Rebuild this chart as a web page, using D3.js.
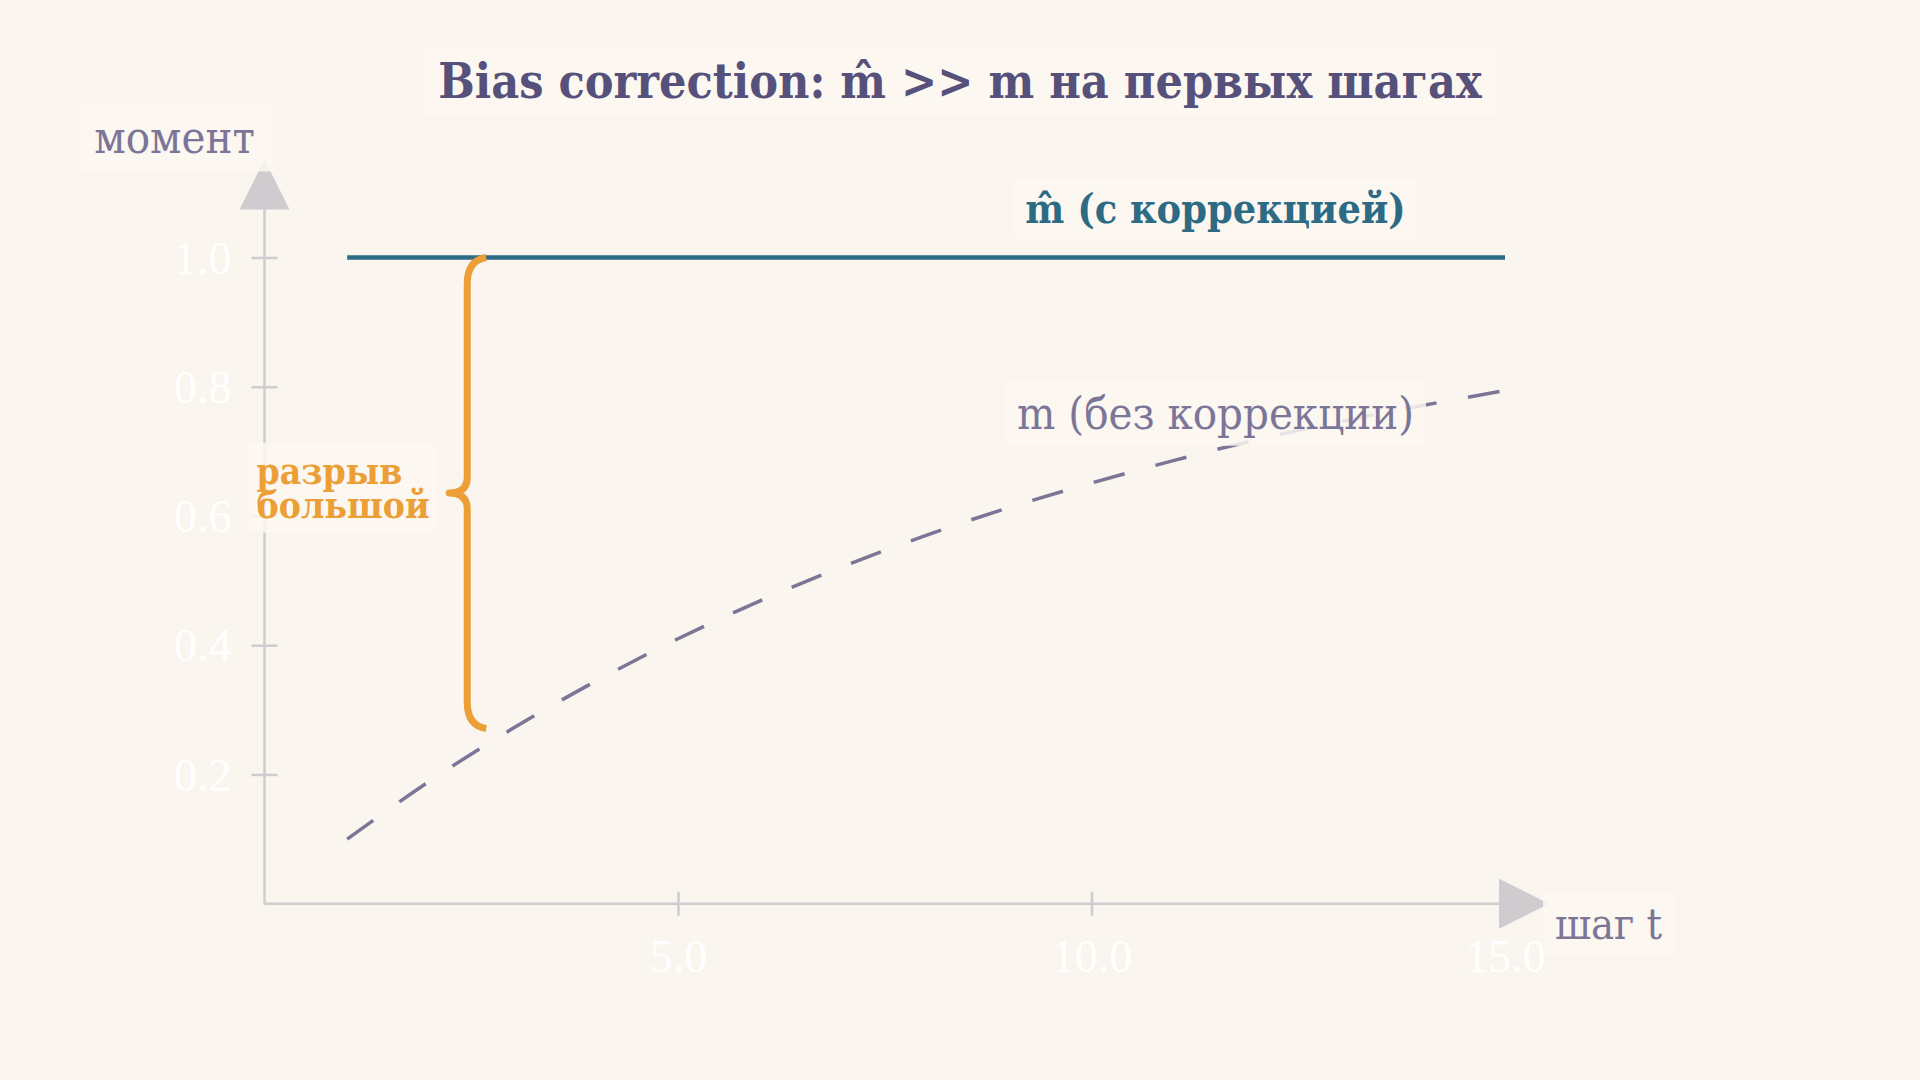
<!DOCTYPE html>
<html>
<head>
<meta charset="utf-8">
<script src="https://cdn.jsdelivr.net/npm/d3@7"></script>
<style>
  html, body { margin: 0; padding: 0; background: #faf5ee; }
  svg { display: block; }
  .lbl { font-stretch: condensed; }
</style>
</head>
<body>
<div id="chart"></div>
<script>
// --- Data ---
const steps = [1, 2, 3, 4, 5, 6, 7, 8, 9, 10, 11, 12, 13, 14, 15];
// m_t without correction
const mRaw = [0.100, 0.190, 0.271, 0.344, 0.410, 0.469, 0.522, 0.570, 0.613, 0.651, 0.686, 0.718, 0.746, 0.771, 0.794];
// m̂_t with bias correction
const mHat = [1.0, 1.0, 1.0, 1.0, 1.0, 1.0, 1.0, 1.0, 1.0, 1.0, 1.0, 1.0, 1.0, 1.0, 1.0];
const xTicks = [5, 10, 15];
const yTicks = [0.2, 0.4, 0.6, 0.8, 1.0];

const titleText = "Bias correction: m\u0302 >> m на первых шагах";
const hatLabel = "m\u0302 (с коррекцией)";
const rawLabel = "m (без коррекции)";
const gapLines = ["разрыв", "большой"];
const yTitle = "момент";
const xTitle = "шаг t";

// --- Layout & color ---
const W = 1920, H = 1080;
const bg = "#faf5ee";
const col = {
  title: "#56517b",
  hat: "#2d6b84",
  raw: "#7b7598",
  gap: "#ec9f36",
  axis: "#cfcbcf",
  tick: "#ffffff",
  box: "#fbf7f1"
};
const serif = "'DejaVu Serif Condensed', 'DejaVu Serif', serif";
const tickFont = "'Liberation Serif', serif";

const x = d3.scaleLinear().domain([0, 15]).range([264.5, 1505]);
const y = d3.scaleLinear().domain([0, 1]).range([903.7, 257.5]);

const svg = d3.select("#chart").append("svg")
  .attr("width", W).attr("height", H);

svg.append("rect").attr("width", W).attr("height", H).attr("fill", bg);

// axes lines + arrows
const axisG = svg.append("g");
const x0 = x(0), y0 = y(0);
axisG.append("line")
  .attr("x1", x0).attr("x2", x(15) - 6).attr("y1", y0).attr("y2", y0)
  .attr("stroke", col.axis).attr("stroke-width", 2.5);
axisG.append("line")
  .attr("x1", x0).attr("x2", x0).attr("y1", y0).attr("y2", y(1) - 49)
  .attr("stroke", col.axis).attr("stroke-width", 2.5);
// arrow heads
const xTip = x(15) + 44, yTip = y(1) - 98;
axisG.append("path")
  .attr("d", `M${xTip},${y0} L${xTip - 50},${y0 - 25} L${xTip - 50},${y0 + 25} Z`)
  .attr("fill", col.axis);
axisG.append("path")
  .attr("d", `M${x0},${yTip} L${x0 - 25},${yTip + 50} L${x0 + 25},${yTip + 50} Z`)
  .attr("fill", col.axis);

// ticks via d3 axes (tick marks cross the axis line)
const gx = svg.append("g").attr("transform", `translate(0,${y0})`)
  .call(d3.axisBottom(x).tickValues(xTicks).tickFormat(d3.format(".1f")).tickSize(0));
gx.select(".domain").remove();
gx.selectAll(".tick line").attr("y1", -12).attr("y2", 12)
  .attr("stroke", col.axis).attr("stroke-width", 2.5);
gx.selectAll(".tick text")
  .attr("y", 68).attr("dy", 0)
  .attr("fill", col.tick).attr("font-family", tickFont).attr("font-size", 46);

const gy = svg.append("g").attr("transform", `translate(${x0},0)`)
  .call(d3.axisLeft(y).tickValues(yTicks).tickFormat(d3.format(".1f")).tickSize(0));
gy.select(".domain").remove();
gy.selectAll(".tick line").attr("x1", -13).attr("x2", 13)
  .attr("stroke", col.axis).attr("stroke-width", 2.5);
gy.selectAll(".tick text")
  .attr("x", -33).attr("dy", "0.34em")
  .attr("fill", col.tick).attr("font-family", tickFont).attr("font-size", 46);

// series
const line = d3.line().x(d => x(d[0])).y(d => y(d[1])).curve(d3.curveMonotoneX);

svg.append("path")
  .datum(steps.map((t, i) => [t, mRaw[i]]))
  .attr("d", line)
  .attr("fill", "none")
  .attr("stroke", col.raw).attr("stroke-width", 3.5)
  .attr("stroke-dasharray", "32,32");

svg.append("path")
  .datum(steps.map((t, i) => [t, mHat[i]]))
  .attr("d", line)
  .attr("fill", "none")
  .attr("stroke", col.hat).attr("stroke-width", 4.5);

// curly brace between the two curves at t = 3
const bx = x(2.5) - 4, bTop = y(mHat[2]), bBot = y(mRaw[2]), bMid = (bTop + bBot) / 2;
svg.append("path")
  .attr("d", [
    `M${bx + 19},${bTop}`,
    `Q${bx},${bTop + 3} ${bx},${bTop + 26}`,
    `L${bx},${bMid - 16}`,
    `Q${bx},${bMid} ${bx - 18},${bMid}`,
    `Q${bx},${bMid} ${bx},${bMid + 16}`,
    `L${bx},${bBot - 26}`,
    `Q${bx},${bBot - 3} ${bx + 19},${bBot}`
  ].join(" "))
  .attr("fill", "none")
  .attr("stroke", col.gap).attr("stroke-width", 7)
  .attr("stroke-linejoin", "round");

// labels with soft background boxes
const labels = svg.append("g");

function boxedText(attrs, lines, padX, padY) {
  const g = labels.append("g");
  const box = g.append("rect");
  const t = g.append("text")
    .attr("class", "lbl")
    .attr("x", attrs.x).attr("y", attrs.y)
    .attr("text-anchor", attrs.anchor || "start")
    .attr("font-family", serif)
    .attr("font-size", attrs.size)
    .attr("font-weight", attrs.weight || "normal")
    .attr("fill", attrs.fill);
  lines.forEach((s, i) => {
    t.append("tspan").attr("x", attrs.x).attr("dy", i ? attrs.lh : 0).text(s);
  });
  const bb = t.node().getBBox();
  box.attr("x", bb.x - padX).attr("y", bb.y - padY)
    .attr("width", bb.width + 2 * padX).attr("height", bb.height + 2 * padY)
    .attr("fill", col.box).attr("opacity", 0.85);
}

boxedText({ x: 960, y: 98, anchor: "middle", size: 48, weight: "bold", fill: col.title }, [titleText], 14, 6);
boxedText({ x: x(11.5), y: y(1) - 35, anchor: "middle", size: 41, weight: "bold", fill: col.hat }, [hatLabel], 12, 6);
boxedText({ x: x(11.5), y: y(0.735), anchor: "middle", size: 45, fill: col.raw }, [rawLabel], 12, 6);
boxedText({ x: x(0) - 8, y: y(0.65), size: 37, weight: "bold", fill: col.gap, lh: 34 }, gapLines, 8, 6);
boxedText({ x: x0 - 90, y: y(1) - 105, anchor: "middle", size: 45, fill: col.raw }, [yTitle], 16, 8);
boxedText({ x: x(15) + 50, y: y0 + 35, size: 43, fill: col.raw }, [xTitle], 12, 6);
</script>
</body>
</html>
